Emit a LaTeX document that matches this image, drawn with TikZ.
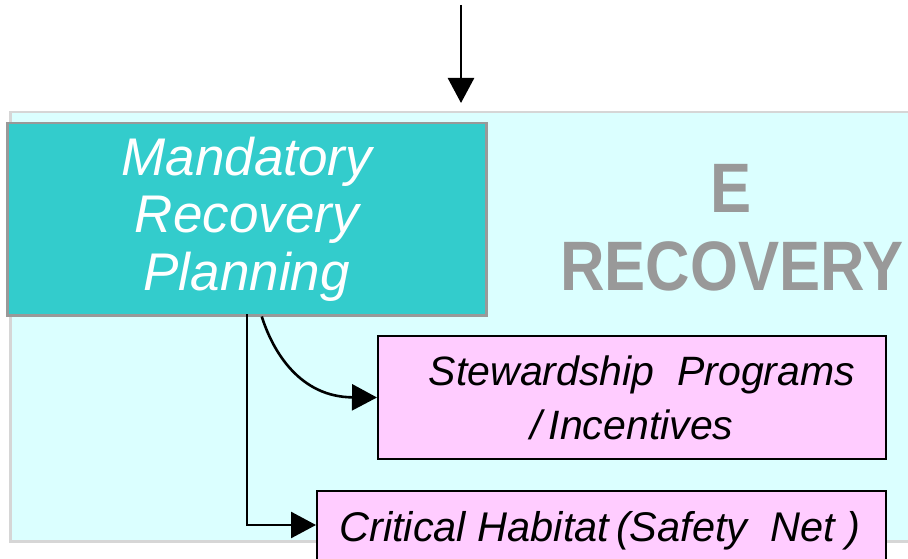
\documentclass[tikz,border=0pt]{standalone}
\usepackage{fontspec}
\setmainfont{Liberation Sans}
\usetikzlibrary{arrows.meta}
\definecolor{bgcyan}{HTML}{DBFFFF}
\definecolor{bgedge}{HTML}{D6D6D6}
\definecolor{teal1}{HTML}{33CCCC}
\definecolor{pink1}{HTML}{FFCCFF}
\definecolor{grey1}{HTML}{999999}
\tikzset{
  conn/.style={line width=2.6pt, -{Triangle[length=25pt,width=26pt]}},
  tealbox/.style={draw=grey1, line width=2.5pt, fill=teal1, text=white, inner sep=0pt, align=center,
    font=\itshape\fontsize{53}{57.5}\selectfont},
  pinkbox/.style={draw=black, line width=2pt, fill=pink1, inner sep=0pt, align=center,
    font=\itshape\fontsize{41}{54}\selectfont},
  bigword/.style={text=grey1, font=\bfseries\fontsize{70}{70}\selectfont, inner sep=0pt, anchor=base, xscale=0.88},
}
\begin{document}
\begin{tikzpicture}[x=1pt,y=-1pt]
\useasboundingbox (0,0) rectangle (908,559);
\clip (0,0) rectangle (908,559);
\fill[white] (0,0) rectangle (908,559);
% region background
\node[draw=bgedge, line width=2.5pt, fill=bgcyan, inner sep=0pt, minimum width=910pt, minimum height=429pt, anchor=north west] (region) at (9,111) {};
% big label
\node[bigword] (lblE) at (731,212) {E};
\node[bigword] (lblR) at (732,290) {RECOVERY};
% boxes
\node[tealbox, minimum width=479pt, minimum height=192pt, anchor=north west] (mrp) at (6,122) {Mandatory\\Recovery\\Planning};
\node[pinkbox, minimum width=508pt, minimum height=123pt, anchor=north west] (stew) at (377,335) {\hspace*{20pt}Stewardship\ \ Programs\\/\,Incentives};
\node[pinkbox, minimum width=569pt, minimum height=100pt, anchor=north west, text depth=0pt] (crit) at (316,490) {};
\node[anchor=base, inner sep=0pt, font=\itshape\fontsize{41.5}{50}\selectfont] (crittext) at (600,541) {Critical Habitat\,(Safety\ \ Net\ )};
% connectors
\coordinate (topstart) at (461,5);
\draw[conn, shorten >=8pt] (topstart) -- (topstart |- region.north);
\draw[conn] ([xshift=15pt]mrp.south) .. controls (273,352) and (300,397) .. (stew.west);
\draw[line width=2.6pt, -{Triangle[length=25pt,width=26pt]}] (247,314) |- (crit.west |- 0,525);
\end{tikzpicture}
\end{document}
